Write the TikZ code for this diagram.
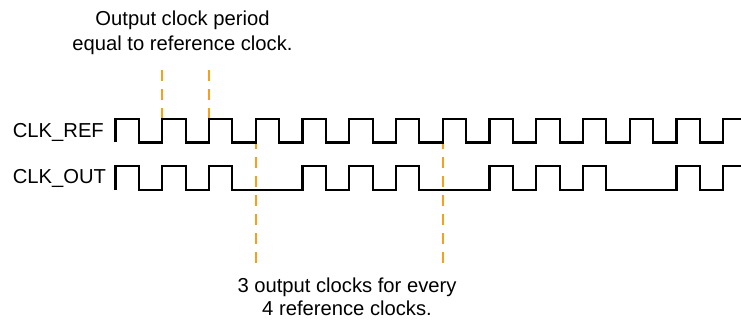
\documentclass[tikz,border=0pt]{standalone}
\usepackage{fontspec}
\setmainfont{Liberation Sans}
\definecolor{markorange}{HTML}{F7A01E}

\begin{document}
\begin{tikzpicture}[x=1pt,y=-1pt, every node/.style={font=\fontsize{20.2}{25}\selectfont,inner sep=0pt},
      signal/.style={line width=2.2pt,line join=miter},
      marker/.style={markorange,line width=1.6pt,dash pattern=on 11pt off 8pt},
      note/.style={align=center,anchor=north},
      sig/.style={anchor=base west}]
    \useasboundingbox (0,0) rectangle (741,320);
    \def\xo{115.5}\def\per{46.75}\def\half{23.375}
    \node[sig] (ref) at (12.7,137.3) {CLK\_REF};
    \node[sig] (out) at (12.7,184) {CLK\_OUT};
    \node[note] (period) at (182.5,10.3) {Output clock period\\equal to reference clock.};
    \node[note,font=\fontsize{20.2}{23}\selectfont] (ratio) at (347,277.2) {3 output clocks for every\\4 reference clocks.};
    % marker lines
    \coordinate (topA) at ({\xo+\per},70);
    \coordinate (edgeA) at ({\xo+\per},119);
    \coordinate (topB) at ({\xo+2*\per},70);
    \coordinate (edgeB) at ({\xo+2*\per},119);
    \coordinate (dropA) at ({\xo+3*\per},263);
    \coordinate (edgeC) at ({\xo+3*\per},142.5);
    \coordinate (dropB) at ({\xo+7*\per},263);
    \coordinate (edgeD) at ({\xo+7*\per},142.5);
    \draw[marker] (topA)--(edgeA);
    \draw[marker] (topB)--(edgeB);
    \draw[marker] (dropA)--(edgeC);
    \draw[marker] (dropB)--(edgeD);
    % reference clock
    \draw[signal] (\xo,142.5) \foreach \k in {0,...,12} {-- ++(0,-23.5) -- ++(\half,0) -- ++(0,23.5) -- ++(\half,0)}
      -- ++(0,-23.5) -- (741,119);
    % output clock, 3 of every 4
    \draw[signal] (\xo,190) -- ++(0,-24.3) -- ++(\half,0) -- ++(0,24.3)
      \foreach \k in {1,2,4,5,6,8,9,10,12} {-- ({\xo+\k*\per},190) -- ++(0,-24.3) -- ++(\half,0) -- ++(0,24.3)}
      -- ({\xo+13*\per},190) -- ++(0,-24.3) -- (741,165.7);
  \end{tikzpicture}
\end{document}
